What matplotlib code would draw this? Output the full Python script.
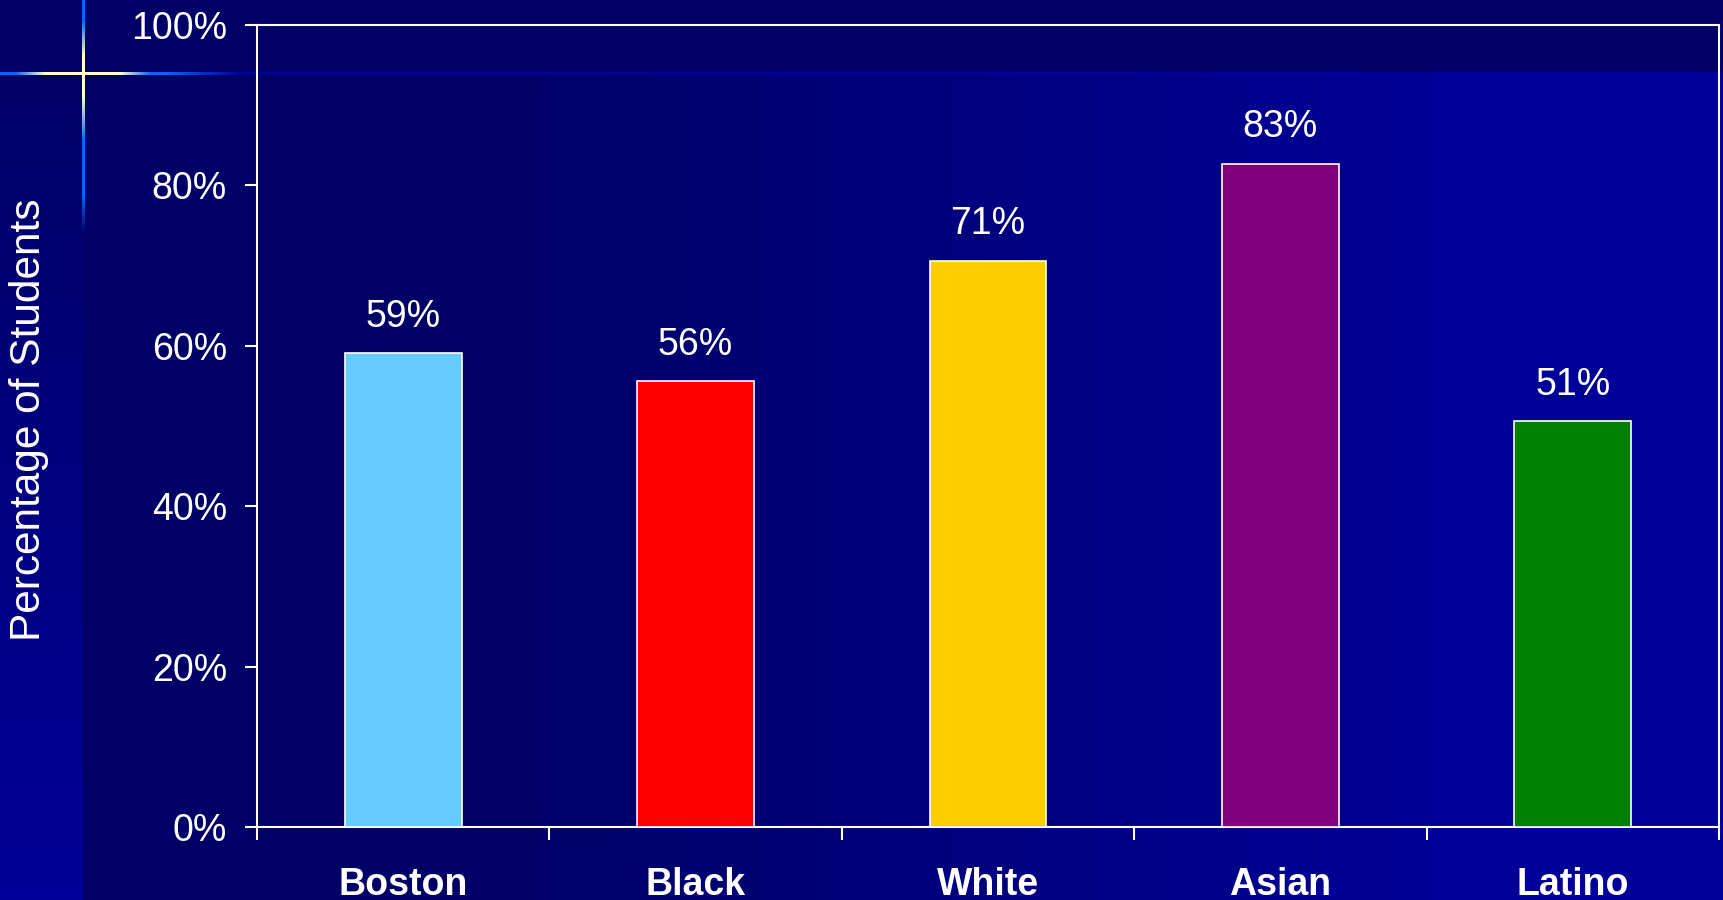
import numpy as np
import matplotlib
matplotlib.use("Agg")
import matplotlib.pyplot as plt

categories = ["Boston", "Black", "White", "Asian", "Latino"]
values = [59.1, 55.6, 70.6, 82.7, 50.6]
bar_colors = ["#66CCFF", "#FF0000", "#FFCC00", "#800080", "#008000"]
yticks = [0, 20, 40, 60, 80, 100]
ytick_labels = ["0%", "20%", "40%", "60%", "80%", "100%"]
ylabel = "Percentage of Students"

W, H = 1723, 900
plt.rcParams['font.family'] = ['Liberation Sans', 'DejaVu Sans']

fig = plt.figure(figsize=(W / 100, H / 100), dpi=100)

# ---- slide background ----
dark = np.array([0x00, 0x00, 0x66]) / 255.0
bright = np.array([0x00, 0x00, 0x99]) / 255.0
blue = np.array([0x00, 0x66, 0xFF]) / 255.0
cream = np.array([0xFF, 0xFF, 0xCC]) / 255.0
Xg, Yg = np.meshgrid(np.arange(W), np.arange(H))
t = np.clip((Xg - 500) / 950.0, 0, 1)[..., None]
bg = dark + t * (bright - dark)
top_mask = Yg < 73
bg[top_mask] = dark
left_mask = (Xg < 83) & (Yg >= 73)
tl = np.clip((Yg - 73) / (H - 73.0), 0, 1)[..., None]
left_col = dark + tl * (bright - dark)
bg[left_mask] = left_col[left_mask]

# horizontal accent line
hx = np.arange(W)
hs = [0, 15, 45, 120, 150, 165, 240, W]
hc = [blue, blue, cream, cream, blue, blue, bright, bright]
hline = np.stack([np.interp(hx, hs, [c[i] for c in hc]) for i in range(3)], axis=1)
for r in (72, 73, 74):
    bg[r, :, :] = hline
# vertical accent line
vy = np.arange(H)
vs = [0, 20, 55, 95, 140, 195, 230, H]
vc = [blue, blue, cream, cream, blue, blue, blue, blue]
vline = np.stack([np.interp(vy, vs, [c[i] for c in vc]) for i in range(3)], axis=1)
valpha = np.interp(vy, [0, 195, 232, H], [1, 1, 0, 0])[:, None]
for c in (82, 83, 84):
    bg[:, c, :] = valpha * vline + (1 - valpha) * bg[:, c, :]
fig.figimage(bg, xo=0, yo=0, origin='upper', zorder=-10)

# ---- chart ----
ax = fig.add_axes([257 / W, 1 - 827 / H, 1462 / W, 802 / H])
ax.set_zorder(5)
ax.set_facecolor('none')
x = np.arange(len(categories))
bars = ax.bar(x, values, width=0.4, color=bar_colors, edgecolor='white', linewidth=1.2, zorder=3)
for xi, v in zip(x, values):
    ax.annotate(f"{v:.0f}%", (xi, v), xytext=(0, 19), textcoords='offset points',
                ha='center', va='baseline', color='white', fontsize=27)

ax.set_xlim(-0.5, len(categories) - 0.5)
ax.set_ylim(0, 100)
ax.set_yticks(yticks)
ax.set_yticklabels(ytick_labels)
ax.set_xticks(np.arange(len(categories) + 1) - 0.5)
ax.set_xticklabels([])
ax.set_xticks(x, minor=True)
ax.set_xticklabels(categories, minor=True, fontweight='bold')
ax.tick_params(axis='x', which='minor', length=0, pad=29, labelsize=27, colors='white')
ax.tick_params(axis='x', which='major', length=9, width=1.5, colors='white', direction='out')
ax.tick_params(axis='y', which='major', length=8.6, width=1.5, colors='white', direction='out',
               labelsize=27, pad=13)
for s in ax.spines.values():
    s.set_color('white')
    s.set_linewidth(1.5)

fig.text(29 / W, 1 - 420 / H, ylabel, rotation=90, ha='center', va='center',
         color='white', fontsize=30.5)

fig.savefig("out.png", dpi=100)
